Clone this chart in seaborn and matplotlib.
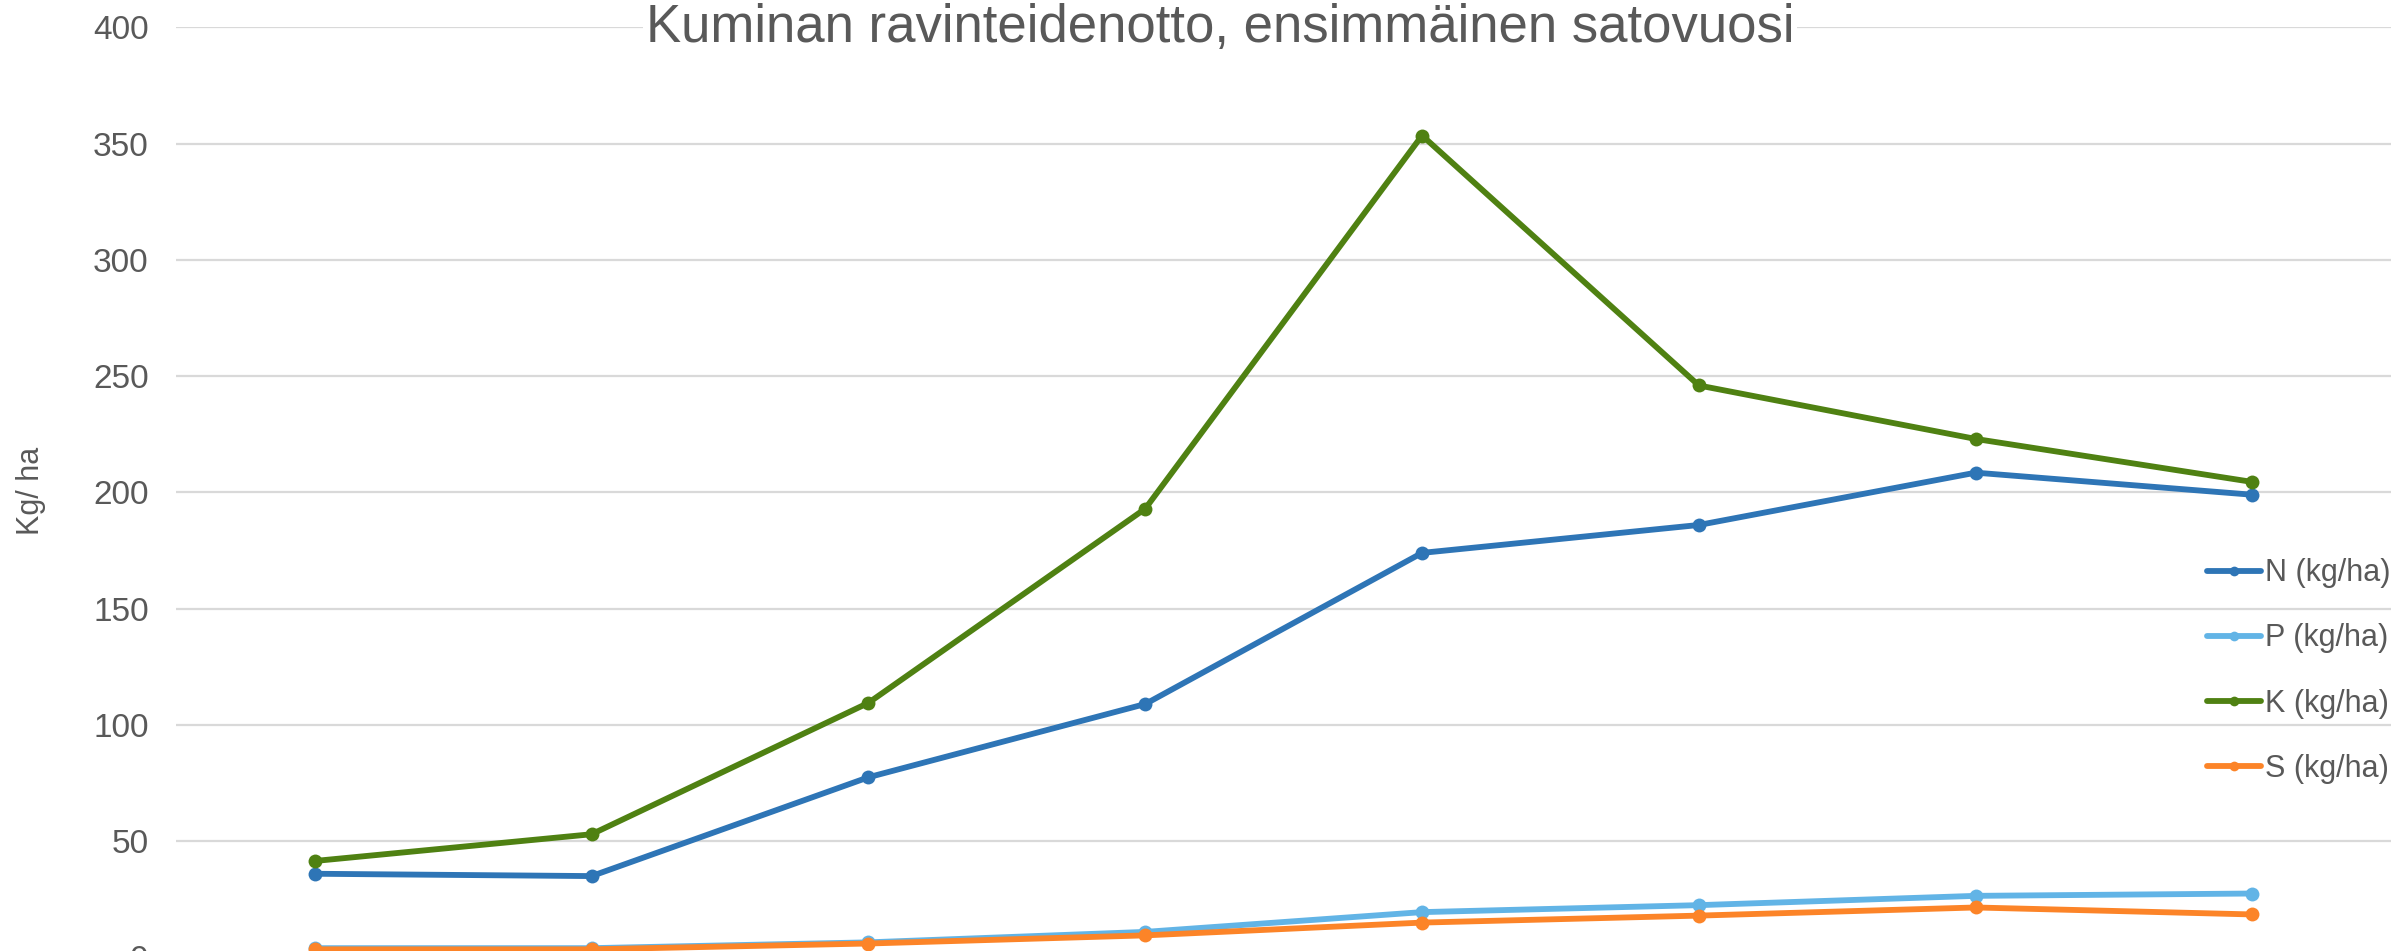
# Kuminan ravinteidenotto - viivakaavio

import matplotlib
matplotlib.use('Agg')
import matplotlib.pyplot as plt
import seaborn as sns

# data (luettu kuvasta)
kerrat = ['1', '2', '3', '4', '5', '6', '7', '8']
n_kg = [36, 35, 77.5, 109, 174, 186, 208.5, 199]
p_kg = [4, 4, 6.5, 11, 19.5, 22.5, 26.5, 27.5]
k_kg = [41.5, 53, 109.5, 193, 353.5, 246, 223, 204.5]
s_kg = [3.5, 3.5, 6, 9.5, 15, 18, 21.5, 18.5]

sarjat = ['N (kg/ha)', 'P (kg/ha)', 'K (kg/ha)', 'S (kg/ha)']
arvot = [n_kg, p_kg, k_kg, s_kg]
varit = ['#2E75B6', '#62B4E6', '#4F8112', '#FC8428']

sns.set_style('white')
plt.rcParams['font.family'] = ['Liberation Sans', 'DejaVu Sans']

harmaa = '#595959'

fig = plt.figure(figsize=(24.07, 9.51), dpi=100)
ax = fig.add_axes([0.0733, -0.0068, 0.920, 0.978])

x = list(range(len(kerrat)))
for nimi, y, vari in zip(sarjat, arvot, varit):
    sns.lineplot(x=x, y=y, ax=ax, color=vari, label=nimi,
                 linewidth=4.2, marker='o', markersize=10,
                 markeredgewidth=0)

ax.set_xlim(-0.5, len(kerrat) - 0.5)
ax.set_ylim(0, 400)
ax.set_yticks(range(0, 401, 50))
ax.set_xticks([])
ax.tick_params(axis='y', length=0, pad=20, labelsize=24, labelcolor=harmaa)
ax.grid(axis='y', color='#D9D9D9', linewidth=1.6)
ax.set_axisbelow(True)
for s in ax.spines.values():
    s.set_visible(False)

# otsikko valkoisella taustalla (peittää 400-viivan)
fig.text(0.507, 0.9706, 'Kuminan ravinteidenotto, ensimmäinen satovuosi',
         ha='center', va='center', fontsize=38, color=harmaa,
         bbox=dict(facecolor='white', edgecolor='none', pad=2))

fig.text(0.013, 0.484, 'Kg/ ha', rotation=90, ha='center', va='center',
         fontsize=22, color=harmaa)

leg = ax.legend(loc='center left', bbox_to_anchor=(0.917, 0.2944),
                bbox_transform=fig.transFigure, frameon=False,
                fontsize=22, handlelength=1.75, handletextpad=0.15,
                labelspacing=1.15, borderpad=0, borderaxespad=0,
                markerscale=0.7)
for t in leg.get_texts():
    t.set_color(harmaa)

fig.savefig('out.png', dpi=100)
